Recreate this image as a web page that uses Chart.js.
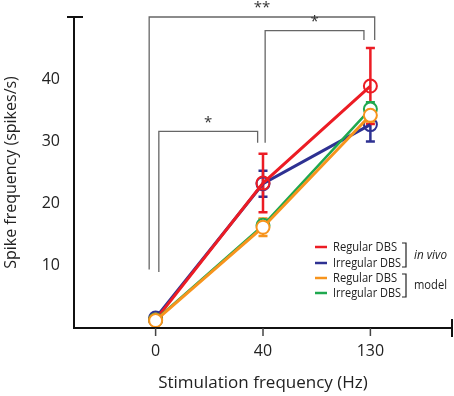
<!DOCTYPE html>
<html>
<head>
<meta charset="utf-8">
<script src="https://cdn.jsdelivr.net/npm/chart.js@4"></script>
<style>
  html, body { margin: 0; padding: 0; background: #fff; }
  #wrap { width: 454px; height: 396px; }
</style>
</head>
<body>
<div id="wrap"><canvas id="myChart" width="454" height="396"></canvas></div>
<script>
// Data
var categories = ['0', '40', '130'];
var yTickValues = [10, 20, 30, 40];

var regularInVivo = [1.3, 23.3, 38.9];
var regularInVivoErr = [0.6, 4.7, 6.1];
var irregularInVivo = [1.6, 23.2, 32.7];
var irregularInVivoErr = [0.5, 2.1, 2.7];
var regularModel = [1.2, 16.2, 34.2];
var regularModelErr = [0.3, 1.4, 1.0];
var irregularModel = [1.3, 16.5, 35.2];
var irregularModelErr = [0.3, 1.0, 1.1];

var legendLabels = ['Regular DBS', 'Irregular DBS', 'Regular DBS', 'Irregular DBS'];
var legendWidths = [64, 68, 64, 68];
var groupLabels = ['in vivo', 'model'];

// significance brackets: from/to category index, top value, leg bottoms
var brackets = [
  { from: -0.06, to: 2.04, top: 50, leftEnd: 9.4, rightEnd: 46.3, label: '**' },
  { from: 1.02, to: 1.94, top: 47.8, leftEnd: 29.8, rightEnd: 46.3, label: '*' },
  { from: 0.03, to: 0.95, top: 31.6, leftEnd: 9.0, rightEnd: 29.8, label: '*' }
];

var RED = '#ec1c24', BLUE = '#2e3192', ORANGE = '#f7941d', GREEN = '#1fa84f';
var FONT = "'Open Sans', 'Noto Sans', sans-serif";

function toPoints(arr) {
  return arr.map(function(v, i) { return { x: i, y: v }; });
}

// same order as the datasets (first one is drawn on top)
var errorSets = [regularModelErr, irregularModelErr, regularInVivoErr, irregularInVivoErr];

// Error bars, axes, brackets and legend
var extras = {
  id: 'extras',
  beforeDatasetsDraw: function(chart) {
    var ctx = chart.ctx;
    var xs = chart.scales.x, ys = chart.scales.y;
    ctx.save();
    chart.data.datasets.slice().reverse().forEach(function(ds, k) {
      var err = errorSets[errorSets.length - 1 - k];
      ctx.strokeStyle = ds.borderColor;
      ctx.lineWidth = 2.5;
      ds.data.forEach(function(p, i) {
        var x = xs.getPixelForValue(p.x);
        var y1 = ys.getPixelForValue(p.y + err[i]);
        var y2 = ys.getPixelForValue(Math.max(p.y - err[i], 0));
        ctx.beginPath();
        ctx.moveTo(x, y1); ctx.lineTo(x, y2);
        ctx.moveTo(x - 4.5, y1); ctx.lineTo(x + 4.5, y1);
        ctx.moveTo(x - 4.5, y2); ctx.lineTo(x + 4.5, y2);
        ctx.stroke();
      });
    });
    ctx.restore();
  },
  afterDraw: function(chart) {
    var ctx = chart.ctx;
    var a = chart.chartArea;
    var xs = chart.scales.x, ys = chart.scales.y;
    ctx.save();

    // axes
    ctx.strokeStyle = '#111';
    ctx.lineWidth = 2;
    ctx.beginPath();
    ctx.moveTo(a.left, a.top); ctx.lineTo(a.left, a.bottom + 1);
    ctx.moveTo(a.left - 7, a.top); ctx.lineTo(a.left + 9, a.top);
    ctx.moveTo(a.left, a.bottom); ctx.lineTo(a.right, a.bottom);
    ctx.moveTo(a.right, a.bottom - 9); ctx.lineTo(a.right, a.bottom + 9);
    ctx.stroke();
    ctx.strokeStyle = '#444';
    ctx.lineWidth = 1.5;
    ctx.beginPath();
    [0, 1, 2].forEach(function(i) {
      var x = xs.getPixelForValue(i);
      ctx.moveTo(x, a.bottom); ctx.lineTo(x, a.bottom + 8);
    });
    ctx.stroke();

    // brackets
    ctx.strokeStyle = '#666';
    ctx.lineWidth = 1.3;
    ctx.fillStyle = '#333';
    ctx.font = '15px ' + FONT;
    ctx.textAlign = 'center';
    ctx.textBaseline = 'middle';
    brackets.forEach(function(b) {
      var x1 = xs.getPixelForValue(b.from), x2 = xs.getPixelForValue(b.to);
      var yt = ys.getPixelForValue(b.top);
      ctx.beginPath();
      ctx.moveTo(x1, ys.getPixelForValue(b.leftEnd));
      ctx.lineTo(x1, yt);
      ctx.lineTo(x2, yt);
      ctx.lineTo(x2, ys.getPixelForValue(b.rightEnd));
      ctx.stroke();
      ctx.fillText(b.label, (x1 + x2) / 2, yt - 9);
    });

    // legend
    var colors = [RED, BLUE, ORANGE, GREEN];
    var rowY = [247, 263, 278, 293];
    ctx.font = '13px ' + FONT;
    ctx.textAlign = 'left';
    legendLabels.forEach(function(t, i) {
      ctx.strokeStyle = colors[i];
      ctx.lineWidth = 2.5;
      ctx.beginPath();
      ctx.moveTo(315, rowY[i]); ctx.lineTo(327, rowY[i]);
      ctx.stroke();
      ctx.fillStyle = '#222';
      ctx.fillText(t, 333, rowY[i], legendWidths[i]);
    });
    ctx.strokeStyle = '#222';
    ctx.lineWidth = 1.2;
    [[0, 1], [2, 3]].forEach(function(pair, g) {
      var yA = rowY[pair[0]] - 4, yB = rowY[pair[1]] + 4;
      ctx.beginPath();
      ctx.moveTo(402, yA); ctx.lineTo(406, yA);
      ctx.lineTo(406, yB); ctx.lineTo(402, yB);
      ctx.stroke();
      ctx.font = (g === 0 ? 'italic ' : '') + '13px ' + FONT;
      ctx.fillText(groupLabels[g], 414, (yA + yB) / 2, 33);
    });
    ctx.restore();
  }
};

document.addEventListener('DOMContentLoaded', function() {
  var ctx = document.getElementById('myChart').getContext('2d');

  var myChart = new Chart(ctx, {
    type: 'line',
    data: {
      datasets: [{
        label: 'Regular DBS (model)',
        data: toPoints(regularModel),
        borderColor: ORANGE,
        borderWidth: 3,
        pointRadius: 6.5,
        pointBorderWidth: 2,
        pointBackgroundColor: '#fff',
        pointBorderColor: ORANGE
      }, {
        label: 'Irregular DBS (model)',
        data: toPoints(irregularModel),
        borderColor: GREEN,
        borderWidth: 2.5,
        pointRadius: 6.5,
        pointBorderWidth: 2,
        pointBackgroundColor: '#fff',
        pointBorderColor: GREEN
      }, {
        label: 'Regular DBS (in vivo)',
        data: toPoints(regularInVivo),
        borderColor: RED,
        borderWidth: 3,
        pointRadius: 6.5,
        pointBorderWidth: 2,
        pointBackgroundColor: 'rgba(255,255,255,0)',
        pointBorderColor: RED
      }, {
        label: 'Irregular DBS (in vivo)',
        data: toPoints(irregularInVivo),
        borderColor: BLUE,
        borderWidth: 3,
        pointRadius: 6.5,
        pointBorderWidth: 2,
        pointBackgroundColor: 'rgba(255,255,255,0)',
        pointBorderColor: BLUE
      }]
    },
    options: {
      responsive: false,
      animation: false,
      layout: { autoPadding: false, padding: { left: 0, top: 17, right: 2, bottom: 0 } },
      plugins: { legend: { display: false }, tooltip: { enabled: false } },
      scales: {
        x: {
          type: 'linear',
          min: -0.76,
          max: 2.76,
          grid: { display: false },
          border: { display: false },
          afterBuildTicks: function(scale) {
            scale.ticks = categories.map(function(c, i) { return { value: i }; });
          },
          afterFit: function(scale) {
            scale.height = 68;
            scale.paddingLeft = 0;
            scale.paddingRight = 0;
          },
          ticks: {
            padding: 6,
            color: '#222',
            font: { family: FONT, size: 16 },
            callback: function(v) { return categories[v]; }
          },
          title: {
            display: true,
            text: 'Stimulation frequency (Hz)',
            color: '#222',
            font: { family: FONT, size: 17 },
            padding: { top: 0, bottom: 3 }
          }
        },
        y: {
          min: 0,
          max: 50,
          grid: { display: false },
          border: { display: false },
          afterBuildTicks: function(scale) {
            scale.ticks = yTickValues.map(function(v) { return { value: v }; });
          },
          afterFit: function(scale) {
            scale.width = 74;
            scale.paddingTop = 0;
            scale.paddingBottom = 0;
          },
          ticks: {
            padding: 6,
            color: '#222',
            font: { family: FONT, size: 16 }
          },
          title: {
            display: true,
            text: 'Spike frequency (spikes/s)',
            color: '#222',
            font: { family: FONT, size: 16 },
            padding: { top: 2, bottom: 0 }
          }
        }
      }
    },
    plugins: [extras]
  });
});
</script>
</body>
</html>
